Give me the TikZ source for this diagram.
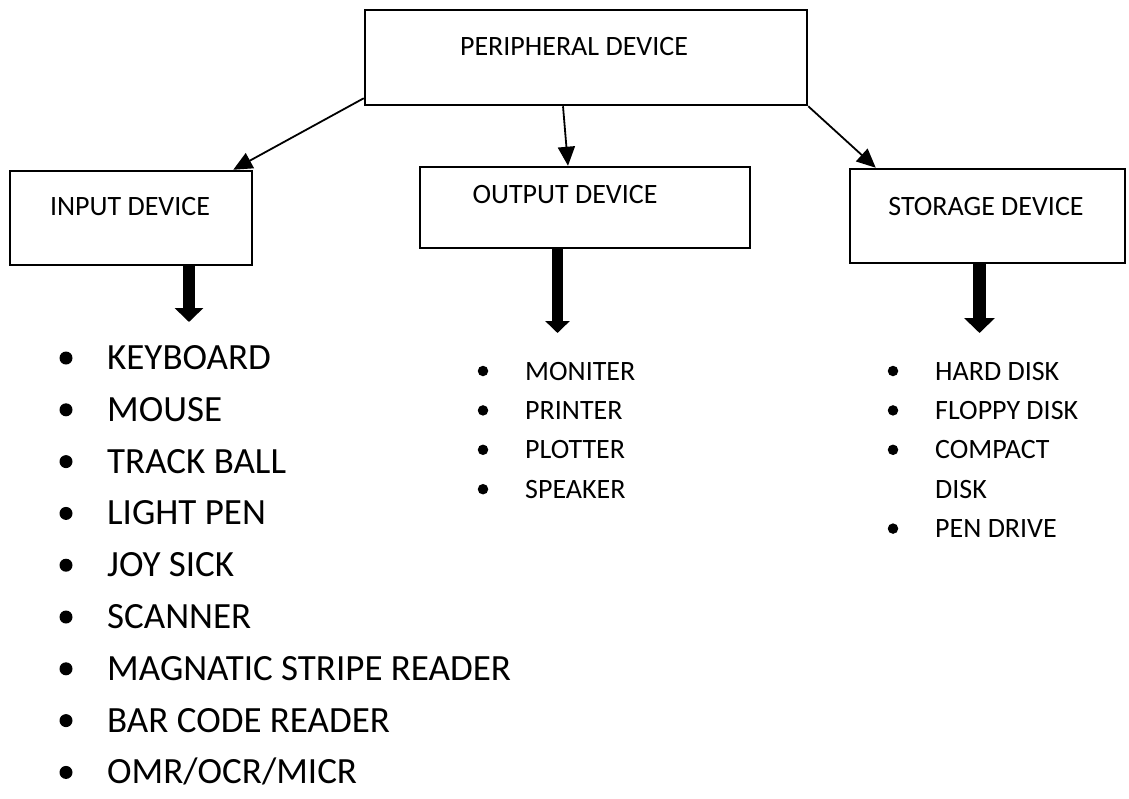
\documentclass[tikz,border=0pt]{standalone}
\usepackage{fontspec}
\setmainfont{Carlito}
\usetikzlibrary{arrows.meta,positioning}

\begin{document}
\begin{tikzpicture}[x=1pt, y=-1pt,
    devbox/.style={draw, line width=2.5pt, inner sep=0pt},
    boxtext/.style={inner sep=0pt, font=\fontsize{28}{30}\selectfont},
    thinarrow/.style={line width=1.8pt, -{Triangle[length=19pt, width=17pt]}},
    blockarrow/.style={line width=12pt, -{Triangle[length=14pt, width=28pt]}},
    bigitem/.style={inner sep=0pt, anchor=west, text height=23pt, text depth=0pt, font=\fontsize{37}{40}\selectfont},
    smallitem/.style={inner sep=0pt, anchor=west, text height=18pt, text depth=0pt, font=\fontsize{28}{30}\selectfont},
    bigdot/.style={circle, fill=black, inner sep=0pt, minimum size=13pt},
    smalldot/.style={circle, fill=black, inner sep=0pt, minimum size=10.5pt}]

    \useasboundingbox (0,0) rectangle (1129,798);

    \node [devbox, minimum width=442pt, minimum height=95pt] (pbox) at (586,57.5) {};
    \node [boxtext] (ptext) at (574,47) {PERIPHERAL DEVICE};

    \node [devbox, minimum width=242pt, minimum height=94pt] (inbox) at (131,218) {};
    \node [boxtext] (intext) at (130,207) {INPUT DEVICE};

    \node [devbox, minimum width=330pt, minimum height=81pt] (outbox) at (585,207.5) {};
    \node [boxtext] (outtext) at (565,195) {OUTPUT DEVICE};

    \node [devbox, minimum width=275pt, minimum height=94pt] (stbox) at (987.5,216) {};
    \node [boxtext] (sttext) at (986,207) {STORAGE DEVICE};

    \draw [thinarrow] ([yshift=8pt]pbox.south west) -- ([xshift=-20pt]inbox.north east);
    \draw [thinarrow] ([xshift=-23pt]pbox.south) -- ([xshift=-17pt]outbox.north);
    \draw [thinarrow] (pbox.south east) -- ([xshift=27pt]stbox.north west);

    \coordinate (intip) at (189,322);
    \coordinate (outtip) at (557.5,333);
    \coordinate (sttip) at (979.5,333);
    \draw [blockarrow] (intip |- inbox.south) -- (intip);
    \draw [blockarrow, line width=11pt, -{Triangle[length=12pt, width=24pt]}] (outtip |- outbox.south) -- (outtip);
    \draw [blockarrow, line width=13pt, -{Triangle[length=15pt, width=30pt]}] (sttip |- stbox.south) -- (sttip);

    \foreach \txt [count=\i from 0] in {KEYBOARD, MOUSE, TRACK BALL, LIGHT PEN, JOY SICK, SCANNER, MAGNATIC STRIPE READER, BAR CODE READER, OMR/OCR/MICR} {
        \node [bigdot] (inb\i) at (66,358+51.8*\i) {};
        \node [bigitem] (in\i) at (107,358+51.8*\i) {\txt};
    }

    \foreach \txt [count=\i from 0] in {MONITER, PRINTER, PLOTTER, SPEAKER} {
        \node [smalldot] (outb\i) at (483,371+39.4*\i) {};
        \node [smallitem] (out\i) at (525,371+39.4*\i) {\txt};
    }

    \foreach \txt/\b [count=\i from 0] in {HARD DISK/1, FLOPPY DISK/1, COMPACT/1, DISK/0, PEN DRIVE/1} {
        \ifnum\b=1
            \node [smalldot] (stb\i) at (893,371+39.4*\i) {};
        \fi
        \node [smallitem] (st\i) at (935,371+39.4*\i) {\txt};
    }
\end{tikzpicture}
\end{document}
